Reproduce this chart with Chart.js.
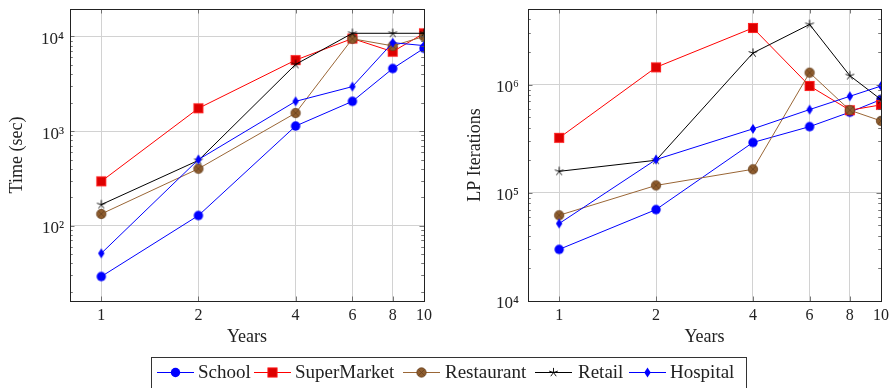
<!DOCTYPE html>
<html>
<head>
<meta charset="utf-8">
<script src="https://cdn.jsdelivr.net/npm/chart.js@4/dist/chart.umd.min.js"></script>
<style>
  html, body { margin: 0; padding: 0; background: #fff; }
  body { width: 893px; height: 388px; position: relative; overflow: hidden; }
  .panel { position: absolute; top: 0; height: 348px; }
  .panel canvas { display: block; }
  #legendBox { position: absolute; left: 151px; top: 357px; width: 596px; height: 40px; border: 1px solid #333; box-sizing: border-box; }
  #legendBox canvas { position: absolute; left: 0; top: 0; display: block; }
</style>
</head>
<body>
<div class="panel" style="left:0;width:445px;"><canvas id="timeChart" width="445" height="348"></canvas></div>
<div class="panel" style="left:445px;width:448px;"><canvas id="lpChart" width="448" height="348"></canvas></div>
<div id="legendBox"><canvas id="legend" width="594" height="30"></canvas></div>
<script>
// Planning horizon in years
const years = [1, 2, 4, 6, 8, 10];

// Solve time (sec) per instance family
const timeSchool      = [29, 128, 1130, 2060, 4580, 7500];
const timeSuperMarket = [294, 1740, 5620, 9500, 6900, 10800];
const timeRestaurant  = [133, 400, 1550, 9450, 7950, 10000];
const timeRetail      = [167, 490, 5060, 10800, 10800, 10800];
const timeHospital    = [51, 500, 2060, 2950, 8600, 8000];

// LP iterations per instance family
const lpSchool      = [30000, 70000, 292000, 409000, 556000, 728000];
const lpSuperMarket = [322000, 1445000, 3340000, 972000, 580000, 650000];
const lpRestaurant  = [62000, 117000, 165000, 1290000, 580000, 462000];
const lpRetail      = [158000, 200000, 1960000, 3600000, 1210000, 728000];
const lpHospital    = [52000, 203000, 390000, 588000, 780000, 970000];

// Axis ticks
const xTickValues = [1, 2, 4, 6, 8, 10];
const timeDecades = [10, 100, 1000, 10000];
const lpDecades = [10000, 100000, 1000000];

const seriesNames = ['School', 'SuperMarket', 'Restaurant', 'Retail', 'Hospital'];

const seriesStyle = {
  School:      { line: '#0000ff', marker: 'circle' },
  SuperMarket: { line: '#ff0000', marker: 'square' },
  Restaurant:  { line: '#9a6636', marker: 'otimes' },
  Retail:      { line: '#000000', marker: 'star' },
  Hospital:    { line: '#0000ff', marker: 'diamond' }
};

const SERIF = "'Liberation Serif', 'Times New Roman', serif";

function drawMarker(ctx, kind, x, y) {
  ctx.save();
  if (kind === 'circle') {
    ctx.fillStyle = '#0000ff';
    ctx.beginPath(); ctx.arc(x, y, 4.7, 0, Math.PI * 2); ctx.fill();
  } else if (kind === 'square') {
    ctx.fillStyle = '#dd0000'; ctx.strokeStyle = '#ff1a1a'; ctx.lineWidth = 0.9;
    ctx.fillRect(x - 4.6, y - 4.6, 9.2, 9.2); ctx.strokeRect(x - 4.6, y - 4.6, 9.2, 9.2);
  } else if (kind === 'otimes') {
    ctx.fillStyle = '#8d5c2e'; ctx.strokeStyle = '#6a4321'; ctx.lineWidth = 0.8;
    ctx.beginPath(); ctx.arc(x, y, 4.7, 0, Math.PI * 2); ctx.fill(); ctx.stroke();
    const d = 3.2;
    ctx.beginPath();
    ctx.moveTo(x - d, y - d); ctx.lineTo(x + d, y + d);
    ctx.moveTo(x - d, y + d); ctx.lineTo(x + d, y - d);
    ctx.stroke();
  } else if (kind === 'star') {
    ctx.strokeStyle = '#000'; ctx.lineWidth = 0.9;
    ctx.beginPath();
    for (let k = 0; k < 5; k++) {
      const a = -Math.PI / 2 + k * 2 * Math.PI / 5;
      ctx.moveTo(x, y); ctx.lineTo(x + 4.6 * Math.cos(a), y + 4.6 * Math.sin(a));
    }
    ctx.stroke();
  } else if (kind === 'diamond') {
    ctx.fillStyle = '#0000ff';
    ctx.beginPath();
    ctx.moveTo(x, y - 5); ctx.lineTo(x + 3.2, y); ctx.lineTo(x, y + 5); ctx.lineTo(x - 3.2, y);
    ctx.closePath(); ctx.fill();
  }
  ctx.restore();
}

function markerImage(kind) {
  const c = document.createElement('canvas');
  c.width = 14; c.height = 14;
  drawMarker(c.getContext('2d'), kind, 7, 7);
  return c;
}

const SUP = { '0': '\u2070', '1': '\u00B9', '2': '\u00B2', '3': '\u00B3', '4': '\u2074', '5': '\u2075', '6': '\u2076', '7': '\u2077', '8': '\u2078', '9': '\u2079' };
function isDecade(v) { const l = Math.log10(v); return Math.abs(l - Math.round(l)) < 1e-9; }
function decadeLabel(v) { return '10' + String(Math.round(Math.log10(v))).split('').map(c => SUP[c]).join(''); }

// Log ticks: decades plus 2..9 multiples inside the axis range
function logTicks(decades, min, max) {
  const out = [];
  decades.forEach(d => { for (let m = 1; m <= 9; m++) { const v = d * m; if (v >= min && v <= max) out.push(v); } });
  return out;
}

function noPadding(s) { s.paddingTop = 0; s.paddingBottom = 0; s.paddingLeft = 0; s.paddingRight = 0; }

// Inner tick marks on all four sides plus the closed frame
const framePlugin = {
  id: 'frame',
  afterDraw(chart) {
    const { ctx, chartArea: a, scales } = chart;
    ctx.save();
    ctx.strokeStyle = '#555'; ctx.lineWidth = 0.8;
    ctx.beginPath();
    scales.y.ticks.forEach(t => {
      const y = Math.round(scales.y.getPixelForValue(t.value)) + 0.5;
      const len = isDecade(t.value) ? 4.5 : 2.8;
      ctx.moveTo(a.left, y); ctx.lineTo(a.left + len, y);
      ctx.moveTo(a.right, y); ctx.lineTo(a.right - len, y);
    });
    scales.x.ticks.forEach(t => {
      const x = Math.round(scales.x.getPixelForValue(t.value)) + 0.5;
      ctx.moveTo(x, a.bottom); ctx.lineTo(x, a.bottom - 4.5);
      ctx.moveTo(x, a.top); ctx.lineTo(x, a.top + 4.5);
    });
    ctx.stroke();
    ctx.strokeStyle = '#222'; ctx.lineWidth = 1;
    ctx.strokeRect(Math.round(a.left) + 0.5, Math.round(a.top) + 0.5, Math.round(a.right - a.left), Math.round(a.bottom - a.top));
    ctx.restore();
  }
};

function makeChart(id, values, cfg) {
  const datasets = seriesNames.map((name, i) => ({
    label: name,
    data: years.map((x, j) => ({ x: x, y: values[i][j] })),
    borderColor: seriesStyle[name].line,
    backgroundColor: seriesStyle[name].line,
    borderWidth: 1,
    pointStyle: markerImage(seriesStyle[name].marker),
    pointRadius: 5,
    tension: 0,
    order: seriesNames.length - i
  }));
  return new Chart(document.getElementById(id), {
    type: 'line',
    data: { datasets },
    plugins: [framePlugin],
    options: {
      responsive: false,
      animation: false,
      devicePixelRatio: 1,
      layout: { padding: { left: 0, right: cfg.rightPad, top: 9, bottom: 0 } },
      plugins: { legend: { display: false }, tooltip: { enabled: false } },
      scales: {
        x: {
          type: 'logarithmic',
          min: 0.8, max: 10,
          afterBuildTicks: s => { s.ticks = xTickValues.map(v => ({ value: v })); },
          afterFit: s => { s.height = 47; noPadding(s); },
          grid: { color: '#d2d2d2', lineWidth: 1, drawTicks: false },
          border: { display: false },
          ticks: {
            autoSkip: false, maxRotation: 0, padding: 5, color: '#222',
            font: { family: 'Liberation Serif', size: 16 },
            callback: v => String(v)
          },
          title: { display: true, text: 'Years', color: '#222', font: { family: 'Liberation Serif', size: 18 }, padding: { top: 0, bottom: 0 } }
        },
        y: {
          type: 'logarithmic',
          min: cfg.yMin, max: cfg.yMax,
          afterBuildTicks: s => { s.ticks = logTicks(cfg.decades, cfg.yMin, cfg.yMax).map(v => ({ value: v })); },
          afterFit: s => { s.width = cfg.yWidth; noPadding(s); },
          grid: { color: c => isDecade(c.tick.value) ? '#d2d2d2' : 'rgba(0,0,0,0)', lineWidth: 1, drawTicks: false },
          border: { display: false },
          ticks: {
            autoSkip: false, padding: cfg.labelPad, labelOffset: 3, color: '#222',
            font: { family: 'Liberation Serif', size: 17 },
            callback: v => isDecade(v) ? decadeLabel(v) : ''
          },
          title: { display: true, text: cfg.yTitle, color: '#222', font: { family: 'Liberation Serif', size: 18 }, padding: { top: cfg.titlePad, bottom: 0 } }
        }
      }
    }
  });
}

makeChart('timeChart',
  [timeSchool, timeSuperMarket, timeRestaurant, timeRetail, timeHospital],
  { yMin: 16, yMax: 19500, decades: timeDecades, yTitle: 'Time (sec)', yWidth: 70, labelPad: 6, titlePad: 6, rightPad: 21 });

makeChart('lpChart',
  [lpSchool, lpSuperMarket, lpRestaurant, lpRetail, lpHospital],
  { yMin: 10000, yMax: 5000000, decades: lpDecades, yTitle: 'LP Iterations', yWidth: 83, labelPad: 9, titlePad: 19, rightPad: 12 });

// Shared legend below both panels: line sample with marker, then the series name
const legendIconX = [5, 102, 251, 383, 477];
const legendTextX = [46, 143, 293, 426, 518];
const lg = document.getElementById('legend').getContext('2d');
lg.font = '19px ' + SERIF;
lg.textBaseline = 'middle';
lg.fillStyle = '#222';
seriesNames.forEach((name, i) => {
  const x0 = legendIconX[i], yMid = 14.5;
  lg.save();
  lg.strokeStyle = seriesStyle[name].line; lg.lineWidth = 1;
  lg.beginPath(); lg.moveTo(x0, yMid); lg.lineTo(x0 + 37, yMid); lg.stroke();
  lg.restore();
  drawMarker(lg, seriesStyle[name].marker, x0 + 18.5, yMid);
  lg.fillText(name, legendTextX[i], yMid + 1);
});
</script>
</body>
</html>
